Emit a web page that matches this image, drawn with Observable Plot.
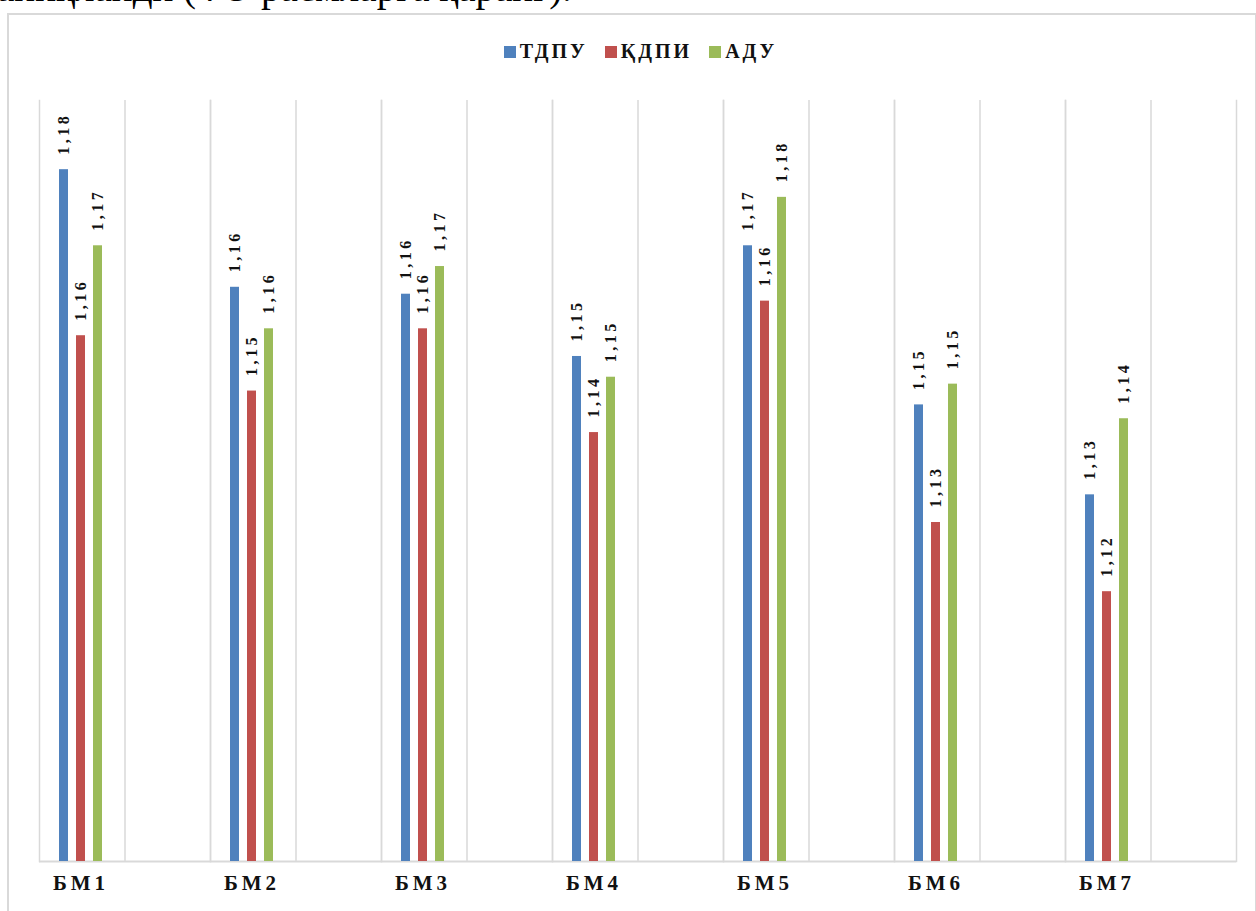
<!DOCTYPE html>
<html>
<head>
<meta charset="utf-8">
<script src="https://cdn.jsdelivr.net/npm/d3@7"></script>
<script src="https://cdn.jsdelivr.net/npm/@observablehq/plot@0.6"></script>
<style>
  html, body { margin: 0; padding: 0; background: #fff; }
  body { position: relative; width: 1256px; height: 911px; overflow: hidden; }
  #toptext { position: absolute; left: -3px; top: -32px; font-family: "Liberation Serif", serif; font-size: 39px; line-height: 39px; color: #000; white-space: nowrap; }
  #box { position: absolute; left: 7px; top: 13px; width: 1250px; height: 1000px; border: 2px solid #d9d9d9; box-sizing: border-box; }
  #legend { position: absolute; top: 40px; left: 0; width: 1281px; display: flex; justify-content: center; gap: 17px; font-family: "Liberation Serif", serif; font-weight: bold; font-size: 20px; letter-spacing: 3px; color: #111; }
  #legend .item { display: flex; align-items: center; gap: 4px; }
  #legend .sw { width: 12px; height: 12px; display: inline-block; }
  #chart { position: absolute; left: 0; top: 80px; }
  #chart g[font-size="16"] { letter-spacing: 3.5px; }
  #chart g[font-size="21"] { letter-spacing: 4px; }
</style>
</head>
<body>
<div id="toptext">аниқланди (4-5-расмларга қаранг).</div>
<div id="box"></div>
<div id="legend"></div>
<div id="chart"></div>
<script>
// ---- data ----
const categories = ["БМ1", "БМ2", "БМ3", "БМ4", "БМ5", "БМ6", "БМ7"];
const seriesNames = ["ТДПУ", "ҚДПИ", "АДУ"];
const tdpu = [1.180, 1.163, 1.162, 1.153, 1.169, 1.146, 1.133];
const kdpi = [1.156, 1.148, 1.157, 1.142, 1.161, 1.129, 1.119];
const adu  = [1.169, 1.157, 1.166, 1.150, 1.176, 1.149, 1.144];
const seriesColors = ["#4F81BD", "#C0504D", "#9BBB59"];
const yDomain = [1.08, 1.19];

const seriesValues = [tdpu, kdpi, adu];
const data = categories.flatMap((c, i) =>
  seriesNames.map((s, j) => ({category: c, series: s, value: seriesValues[j][i]}))
);
const fmt = v => d3.format(".2f")(v).replace(".", ",");

// ---- legend ----
const legend = document.getElementById("legend");
seriesNames.forEach((s, j) => {
  const item = document.createElement("span");
  item.className = "item";
  const sw = document.createElement("span");
  sw.className = "sw";
  sw.style.background = seriesColors[j];
  const t = document.createElement("span");
  t.textContent = s;
  item.appendChild(sw);
  item.appendChild(t);
  legend.appendChild(item);
});

// ---- chart ----
const grid = "#d9d9d9";
const chart = Plot.plot({
  width: 1256,
  height: 831,
  marginLeft: 37,
  marginRight: 19,
  marginTop: 20,
  marginBottom: 50,
  fx: {domain: categories, padding: 0, axis: null, label: null},
  x: {domain: seriesNames, paddingInner: 0.444, paddingOuter: 3.48, align: 0.155, axis: null, label: null},
  y: {domain: yDomain, axis: null, label: null},
  color: {domain: seriesNames, range: seriesColors},
  style: {fontFamily: "'Liberation Serif', serif", color: "#111", background: "transparent"},
  marks: [
    Plot.frame({anchor: "left", stroke: grid, strokeWidth: 1.5}),
    Plot.frame({anchor: "right", stroke: grid, strokeWidth: 1.5}),
    Plot.ruleX([null], {x: null, stroke: grid, strokeWidth: 1.5}),
    Plot.ruleY([yDomain[0]], {stroke: grid, strokeWidth: 2}),
    Plot.barY(data, {fx: "category", x: "series", y1: yDomain[0], y2: "value", fill: "series"}),
    Plot.text(data, {
      fx: "category", x: "series", y: "value", text: d => fmt(d.value),
      rotate: -90, textAnchor: "start", dy: -15,
      fontSize: 16, fontWeight: "bold", fill: "#111"
    }),
    Plot.text(categories, {
      fx: d => d, x: () => seriesNames[1], text: d => d,
      frameAnchor: "bottom", dy: 28,
      fontSize: 21, fontWeight: "bold", fill: "#111"
    })
  ]
});
document.getElementById("chart").appendChild(chart);
</script>
</body>
</html>
